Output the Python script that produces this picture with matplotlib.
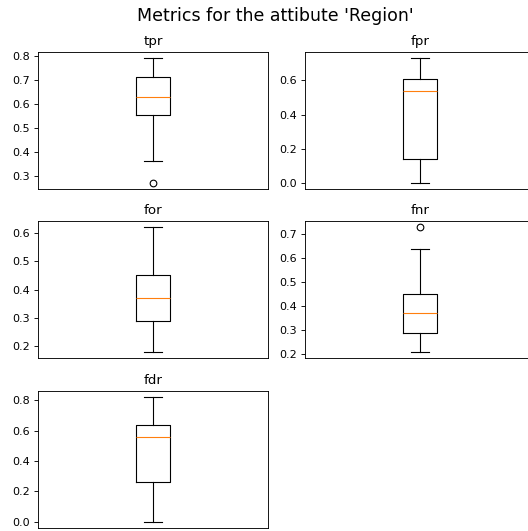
import matplotlib
matplotlib.use("Agg")
import matplotlib.pyplot as plt

metrics = ["tpr", "fpr", "for", "fnr", "fdr"]
whislo = [0.36, 0.0, 0.18, 0.21, 0.0]
q1 = [0.555, 0.14, 0.29, 0.29, 0.265]
med = [0.63, 0.54, 0.37, 0.37, 0.56]
q3 = [0.71, 0.61, 0.45, 0.45, 0.635]
whishi = [0.79, 0.73, 0.62, 0.64, 0.82]
fliers = [[0.27], [], [], [0.73], []]

DPI = 80
W, H = 528, 531
fig = plt.figure(figsize=(W / DPI, H / DPI), dpi=DPI)
# axes boxes in pixels: left, top
lefts = [38, 305]
tops = [52, 221, 391]
aw, ah = 230, 137

for i, name in enumerate(metrics):
    row, col = divmod(i, 2)
    l = lefts[col]
    t = tops[row]
    ax = fig.add_axes([l / W, 1 - (t + ah) / H, aw / W, ah / H])
    stats = [dict(med=med[i], q1=q1[i], q3=q3[i], whislo=whislo[i],
                  whishi=whishi[i], fliers=fliers[i])]
    ax.bxp(stats, positions=[1], widths=0.15)
    ax.set_xlim(0.5, 1.5)
    ax.set_xticks([])
    ax.set_title(name)

fig.suptitle("Metrics for the attibute 'Region'", fontsize=15.7,
             x=275 / W, y=1 - 16 / H, va="center")
fig.savefig("out.png", dpi=DPI)
